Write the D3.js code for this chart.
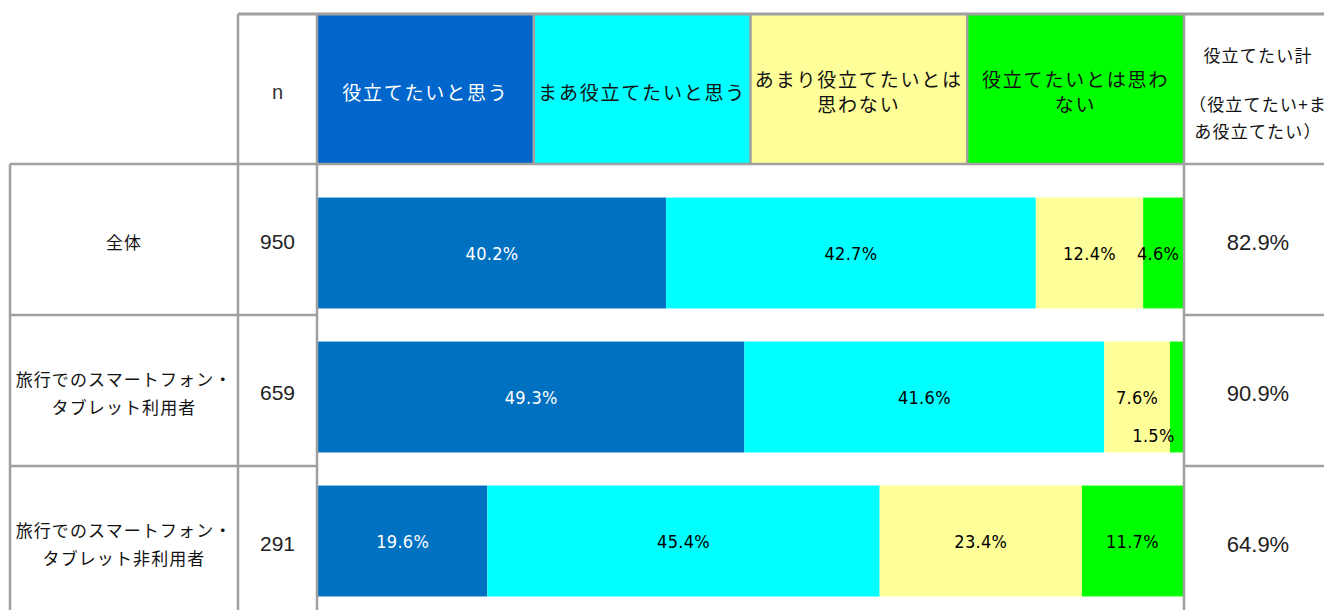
<!DOCTYPE html>
<html>
<head>
<meta charset="utf-8">
<script src="https://cdn.jsdelivr.net/npm/d3@7"></script>
<style>
  html, body { margin: 0; padding: 0; background: #fff; }
  svg { display: block; }
  .jp { font-family: "Noto Sans CJK JP", "Noto Sans", sans-serif; font-weight: 400; }
  .num { font-family: "Liberation Sans", Arial, sans-serif; }
  .barlbl { font-family: "DejaVu Sans Condensed", "DejaVu Sans", sans-serif; }
</style>
</head>
<body>
<div id="chart"></div>
<script>
// --- data ---
var groupLabels = [["全体"], ["旅行でのスマートフォン・", "タブレット利用者"], ["旅行でのスマートフォン・", "タブレット非利用者"]];
var nValues = [950, 659, 291];
var categories = ["役立てたいと思う", "まあ役立てたいと思う", "あまり役立てたいとは思わない", "役立てたいとは思わない"];
var headerLines = [["役立てたいと思う"], ["まあ役立てたいと思う"], ["あまり役立てたいとは", "思わない"], ["役立てたいとは思わ", "ない"]];
var v1 = [40.2, 49.3, 19.6];	// 役立てたいと思う
var v2 = [42.7, 41.6, 45.4];	// まあ役立てたいと思う
var v3 = [12.4, 7.6, 23.4];	// あまり役立てたいとは思わない
var v4 = [4.6, 1.5, 11.7];	// 役立てたいとは思わない
var totals = [82.9, 90.9, 64.9];
var totalHeader = ["役立てたい計", "（役立てたい+ま", "あ役立てたい）"];

var headColors = ["#0066CC", "#00FFFF", "#FFFF99", "#00FF00"];
var barColors = ["#0070C0", "#00FFFF", "#FFFF99", "#00FF00"];
var txtColors = ["#fff", "#000", "#000", "#000"];

var W = 1324, H = 610;
var lineCol = "#a0a0a0";

// table geometry
var xLab0 = 10, xN0 = 238, xP0 = 317, xP1 = 1184, xT1 = 1332;
var yH0 = 14, yH1 = 164, rowH = 151;

var svg = d3.select("#chart").append("svg")
	.attr("width", W)
	.attr("height", H);

var rows = groupLabels.map((g, i) => ({ id: i, lab: g, n: nValues[i], tot: totals[i],
	c0: v1[i], c1: v2[i], c2: v3[i], c3: v4[i] }));
var keys = ["c0", "c1", "c2", "c3"];

var rowY = d3.scaleBand(d3.range(rows.length), [yH1, yH1 + rowH * rows.length]);
var headX = d3.scaleBand(keys, [xP0, xP1]);

// header cells
svg.selectAll(".hcell")
	.data(keys)
	.join("rect")
		.attr("class", "hcell")
		.attr("x", k => headX(k))
		.attr("y", yH0)
		.attr("width", headX.bandwidth())
		.attr("height", yH1 - yH0)
		.attr("fill", (k, i) => headColors[i]);

svg.selectAll(".htxt")
	.data(keys)
	.join("text")
		.attr("class", "htxt jp")
		.attr("fill", (k, i) => i === 0 ? "#fff" : "#111")
		.attr("font-size", 19)
		.attr("letter-spacing", 1.8)
		.attr("text-anchor", "middle")
		.each(function(k, i)	{
			var lines = headerLines[i];
			var cy = (yH0 + yH1) / 2 + 2;
			d3.select(this).selectAll("tspan")
				.data(lines)
				.join("tspan")
					.attr("x", headX(k) + headX.bandwidth() / 2)
					.attr("y", (d, j) => cy + (j - (lines.length - 1) / 2) * 25)
					.attr("dominant-baseline", "central")
					.text(d => d);
		});

// n header
svg.append("text")
	.attr("class", "num")
	.attr("x", (xN0 + xP0) / 2)
	.attr("y", (yH0 + yH1) / 2 + 3)
	.attr("text-anchor", "middle")
	.attr("dominant-baseline", "central")
	.attr("font-size", 20)
	.attr("fill", "#333")
	.text("n");

// total header
var totCx = (xP1 + xT1) / 2;
svg.append("text")
	.attr("class", "jp")
	.attr("font-size", 17)
	.attr("letter-spacing", 1.2)
	.attr("fill", "#111")
	.attr("text-anchor", "middle")
	.selectAll("tspan")
	.data(totalHeader)
	.join("tspan")
		.attr("x", totCx)
		.attr("y", (d, j) => [54, 103, 130][j])
		.attr("dominant-baseline", "central")
		.text(d => d);

// bars
var stack = d3.stack().keys(keys).offset(d3.stackOffsetExpand);
var series = stack(rows);

var x = d3.scaleLinear([0, 1], [xP0 + 1, xP1 - 1]);
var y = d3.scaleBand(d3.range(rows.length), [181, 613]).paddingInner(0.23).paddingOuter(0.115);

var seg = svg.selectAll(".series")
	.data(series)
	.join("g")
		.attr("class", "series")
		.attr("fill", (s, i) => barColors[i]);

seg.selectAll("rect")
	.data(s => s)
	.join("rect")
		.attr("x", d => x(d[0]))
		.attr("y", d => y(d.data.id))
		.attr("width", d => x(d[1]) - x(d[0]))
		.attr("height", y.bandwidth());

seg.selectAll("text")
	.data((s, i) => s.map(d => ({ d: d, key: s.key, i: i })))
	.join("text")
		.attr("class", "barlbl")
		.attr("font-size", 18)
		.attr("letter-spacing", 0.3)
		.attr("text-anchor", "middle")
		.attr("dominant-baseline", "central")
		.attr("fill", e => txtColors[e.i])
		.attr("x", e => {
			var w = x(e.d[1]) - x(e.d[0]);
			return (x(e.d[0]) + x(e.d[1])) / 2 - (w < 25 ? 23 : w < 50 ? 5 : 0);
		})
		.attr("y", e => {
			var w = x(e.d[1]) - x(e.d[0]);
			return y(e.d.data.id) + y.bandwidth() / 2 + (w < 25 ? 38 : 0);
		})
		.text(e => e.d.data[e.key].toFixed(1) + "%");

// row label / n / total texts
var rowG = svg.selectAll(".row")
	.data(rows)
	.join("g")
		.attr("class", "row")
		.attr("transform", d => `translate(0,${rowY(d.id) + rowY.bandwidth() / 2 + 2})`);

rowG.append("text")
	.attr("class", "jp")
	.attr("font-size", 17)
	.attr("letter-spacing", 1.1)
	.attr("fill", "#111")
	.attr("text-anchor", "middle")
	.each(function(d)	{
		d3.select(this).selectAll("tspan")
			.data(d.lab)
			.join("tspan")
				.attr("x", (xLab0 + xN0) / 2)
				.attr("y", (t, j) => (j - (d.lab.length - 1) / 2) * 28)
				.attr("dominant-baseline", "central")
				.text(t => t);
	});

rowG.append("text")
	.attr("class", "num")
	.attr("x", (xN0 + xP0) / 2)
	.attr("text-anchor", "middle")
	.attr("dominant-baseline", "central")
	.attr("font-size", 21)
	.attr("fill", "#222")
	.text(d => d.n);

rowG.append("text")
	.attr("class", "num")
	.attr("x", totCx)
	.attr("y", 1)
	.attr("text-anchor", "middle")
	.attr("dominant-baseline", "central")
	.attr("font-size", 22)
	.attr("fill", "#222")
	.text(d => d.tot.toFixed(1) + "%");

// grid lines
var grid = svg.append("g")
	.attr("stroke", lineCol)
	.attr("stroke-width", 2.5)
	.attr("fill", "none");

var yEnd = H + 10;
grid.append("line").attr("x1", xN0).attr("x2", W + 10).attr("y1", yH0).attr("y2", yH0).attr("stroke-width", 3);
grid.append("line").attr("x1", xLab0).attr("x2", xP0).attr("y1", yH1).attr("y2", yH1);
grid.append("line").attr("x1", xP0).attr("x2", W + 10).attr("y1", yH1).attr("y2", yH1);

[xN0, xP0, xP1].forEach(gx => {
	grid.append("line").attr("x1", gx).attr("x2", gx).attr("y1", yH0).attr("y2", yEnd);
});
grid.append("line").attr("x1", xLab0).attr("x2", xLab0).attr("y1", yH1).attr("y2", yEnd);

headX.domain().slice(1).forEach(k => {
	grid.append("line").attr("x1", headX(k)).attr("x2", headX(k)).attr("y1", yH0).attr("y2", yH1);
});

d3.range(1, rows.length).forEach(i => {
	var gy = rowY(i);
	grid.append("line").attr("x1", xLab0).attr("x2", xP0).attr("y1", gy).attr("y2", gy);
	grid.append("line").attr("x1", xP1).attr("x2", W + 10).attr("y1", gy).attr("y2", gy);
});
</script>
</body>
</html>
